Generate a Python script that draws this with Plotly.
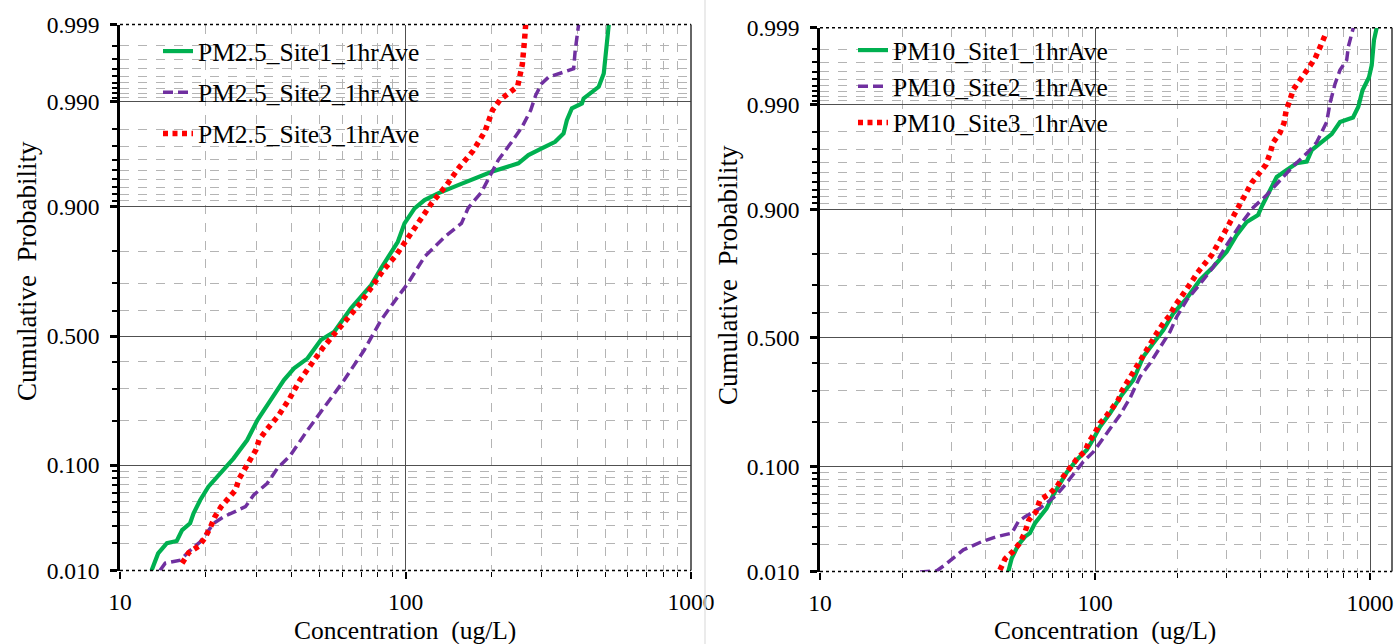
import plotly.graph_objects as go
from statistics import NormalDist

# ---------------- data ----------------
# Left panel: PM2.5, 1-hour averages  (concentration ug/L, cumulative probability)
pm25_site1_conc = [12.9, 13.6, 14.6, 15.8, 16.5, 17.6, 18.1, 19.1, 20.4, 21.9,
                   23.1, 25.0, 27.9, 30.3, 33.7, 37.5, 40.7, 45.4, 50.5, 56.3,
                   64.4, 75.8, 82.1, 86.7, 94.0, 99.2, 107.6, 116.6, 130.0, 152.9,
                   200.3, 248.5, 269.5, 300.1, 334.3, 357.8, 367.5, 382.7, 415.0, 420.7,
                   475.1, 494.8, 504.1, 515.2]
pm25_site1_prob = [0.0100, 0.0155, 0.0199, 0.0210, 0.0271, 0.0316, 0.0393, 0.0519, 0.0675, 0.0814,
                   0.0947, 0.1125, 0.151, 0.2023, 0.2627, 0.3312, 0.3743, 0.4125, 0.4842, 0.517,
                   0.6083, 0.6936, 0.749, 0.7796, 0.8252, 0.8682, 0.8974, 0.9114, 0.9216, 0.9329,
                   0.9485, 0.9567, 0.9637, 0.9687, 0.973, 0.9778, 0.9839, 0.9881, 0.9895, 0.9908,
                   0.9933, 0.9954, 0.9979, 0.9990]

pm25_site2_conc = [13.8, 14.4, 16.3, 17.4, 19.1, 21.3, 23.1, 25.4, 27.5, 29.4,
                   32.8, 35.6, 39.6, 45.4, 51.9, 61.0, 71.7, 82.1, 94.0, 102.0,
                   116.6, 137.2, 157.0, 165.8, 184.6, 200.3, 211.3, 235.4, 255.3, 274.6,
                   285.9, 300.1, 316.9, 388.0, 393.0, 404.0]
pm25_site2_prob = [0.0100, 0.0121, 0.0131, 0.0162, 0.0206, 0.0316, 0.0365, 0.0407, 0.0452, 0.0574,
                   0.072, 0.0947, 0.1189, 0.1755, 0.2415, 0.3312, 0.4448, 0.5631, 0.6517, 0.6995,
                   0.7843, 0.8377, 0.8682, 0.898, 0.9234, 0.9468, 0.9596, 0.9729, 0.9807, 0.9875,
                   0.9916, 0.9939, 0.9949, 0.996, 0.9977, 0.9990]

pm25_site3_conc = [16.5, 17.4, 18.9, 19.8, 20.7, 21.5, 22.6, 24.0, 25.4, 26.1,
                   27.4, 28.7, 29.9, 30.7, 32.4, 35.8, 39.3, 42.7, 46.6, 51.2,
                   56.6, 62.7, 69.5, 76.2, 83.3, 92.8, 102.0, 112.6, 123.9, 139.0,
                   154.1, 172.6, 189.6, 201.8, 214.1, 247.1, 256.6, 260.9, 263.6]
pm25_site3_prob = [0.0121, 0.0158, 0.0186, 0.0224, 0.0286, 0.0365, 0.0452, 0.0537, 0.0633, 0.078,
                   0.0947, 0.1106, 0.129, 0.151, 0.1737, 0.2137, 0.2683, 0.3312, 0.3894, 0.4514,
                   0.5107, 0.572, 0.6272, 0.6876, 0.7414, 0.7892, 0.8358, 0.873, 0.9073, 0.9325,
                   0.9529, 0.967, 0.9787, 0.9875, 0.9904, 0.9934, 0.9965, 0.99825, 0.9990]

# Right panel: PM10, 1-hour averages
pm10_site1_conc = [48.4, 49.8, 52.6, 55.7, 58.0, 60.5, 63.1, 66.7, 70.5, 74.6,
                   78.9, 85.8, 93.3, 98.6, 104.3, 113.4, 125.1, 137.9, 149.8, 162.9,
                   177.2, 192.7, 215.6, 240.9, 269.3, 301.2, 327.6, 356.1, 391.5, 406.5,
                   433.1, 457.9, 497.9, 541.5, 588.8, 613.8, 657.9, 725.6, 777.8, 867.4,
                   906.9, 939.2, 991.7, 1014.4, 1033.9, 1057.8]
pm10_site1_prob = [0.0100, 0.0141, 0.0196, 0.0239, 0.0259, 0.0325, 0.0375, 0.0449, 0.0589, 0.0739,
                   0.0902, 0.1122, 0.1323, 0.1572, 0.1885, 0.2266, 0.2851, 0.3379, 0.4261, 0.479,
                   0.5318, 0.5972, 0.6537, 0.7183, 0.7612, 0.805, 0.8475, 0.876, 0.8897, 0.9074,
                   0.9298, 0.9456, 0.9529, 0.9591, 0.9605, 0.9694, 0.9738, 0.9789, 0.9843, 0.986,
                   0.9894, 0.9932, 0.9953, 0.9967, 0.9985, 0.9990]

pm10_site2_conc = [23.1, 26.6, 28.5, 33.2, 38.7, 43.9, 49.8, 52.6, 55.7, 58.9,
                   63.1, 67.7, 72.5, 77.8, 83.4, 90.7, 98.6, 110.3, 123.3, 134.1,
                   145.7, 158.5, 172.4, 187.4, 198.3, 215.6, 240.9, 269.3, 301.2, 336.8,
                   376.4, 421.1, 457.9, 526.1, 595.2, 640.3, 695.9, 715.4, 746.0, 777.8,
                   822.8, 833.9, 869.6]
pm10_site2_prob = [0.0099, 0.0102, 0.0119, 0.0174, 0.0212, 0.0239, 0.0259, 0.0336, 0.0375, 0.0404,
                   0.0449, 0.0515, 0.0589, 0.0716, 0.0862, 0.109, 0.1281, 0.1713, 0.2216, 0.275,
                   0.3489, 0.4005, 0.4655, 0.525, 0.584, 0.6475, 0.7047, 0.7603, 0.8229, 0.8698,
                   0.9032, 0.9228, 0.9375, 0.9567, 0.968, 0.9745, 0.9843, 0.9903, 0.9943, 0.9962,
                   0.9972, 0.99814, 0.9990]

pm10_site3_conc = [45.1, 47.1, 50.2, 53.4, 55.7, 57.5, 61.0, 63.1, 68.2, 72.7,
                   76.7, 81.1, 85.8, 92.0, 95.1, 100.0, 104.3, 109.6, 115.6, 121.5,
                   125.4, 130.8, 136.6, 142.5, 147.9, 155.0, 161.6, 169.0, 177.2, 186.3,
                   194.3, 205.0, 214.8, 224.7, 234.9, 249.1, 265.7, 282.9, 299.5, 314.1,
                   325.6, 339.6, 354.9, 371.3, 393.1, 418.8, 433.1, 444.1, 470.8, 486.8,
                   495.0, 511.9, 527.1, 556.6, 590.0, 631.0, 660.7, 686.1]
pm10_site3_prob = [0.0104, 0.0139, 0.0166, 0.0207, 0.0268, 0.0349, 0.0418, 0.0533, 0.0601, 0.0696,
                   0.0836, 0.0972, 0.1137, 0.1302, 0.1508, 0.1728, 0.1978, 0.2171, 0.2419, 0.2684,
                   0.2998, 0.3306, 0.36, 0.3902, 0.4238, 0.4552, 0.4893, 0.525, 0.5582, 0.5867,
                   0.6224, 0.6537, 0.6837, 0.7125, 0.7404, 0.7695, 0.7958, 0.8305, 0.859, 0.8784,
                   0.8953, 0.9122, 0.9261, 0.939, 0.9493, 0.958, 0.9671, 0.9742, 0.9796, 0.9839,
                   0.988, 0.9911, 0.9934, 0.9949, 0.99625, 0.99731, 0.99818, 0.99871]

left_names = ["PM2.5_Site1_1hrAve", "PM2.5_Site2_1hrAve", "PM2.5_Site3_1hrAve"]
right_names = ["PM10_Site1_1hrAve", "PM10_Site2_1hrAve", "PM10_Site3_1hrAve"]

# axis ticks
prob_major = [0.01, 0.1, 0.5, 0.9, 0.99, 0.999]
prob_major_labels = ["0.010", "0.100", "0.500", "0.900", "0.990", "0.999"]
prob_minor = [0.02, 0.03, 0.04, 0.05, 0.06, 0.07, 0.08, 0.09,
              0.2, 0.3, 0.4, 0.6, 0.7, 0.8,
              0.91, 0.92, 0.93, 0.94, 0.95, 0.96, 0.97, 0.98,
              0.991, 0.992, 0.993, 0.994, 0.995, 0.996, 0.997, 0.998]
conc_major = [10, 100, 1000]
conc_major_labels = ["10", "100", "1000"]
conc_minor = [20, 30, 40, 50, 60, 70, 80, 90, 200, 300, 400, 500, 600, 700, 800, 900]

# ---------------- helpers ----------------
nd = NormalDist()


def probit(ps):
    return [nd.inv_cdf(p) for p in ps]


FONT = "Liberation Serif, Times New Roman, serif"
GREEN = "#00B050"
PURPLE = "#7030A0"
RED = "#FF0000"
styles = [
    dict(color=GREEN, width=4.2),
    dict(color=PURPLE, width=3.5, dash="10px,5px"),
    dict(color=RED, width=5.5, dash="5px,4.5px"),
]

fig = go.Figure()

left_series = [(pm25_site1_conc, pm25_site1_prob), (pm25_site2_conc, pm25_site2_prob),
               (pm25_site3_conc, pm25_site3_prob)]
right_series = [(pm10_site1_conc, pm10_site1_prob), (pm10_site2_conc, pm10_site2_prob),
                (pm10_site3_conc, pm10_site3_prob)]

for i, ((c, p), name) in enumerate(zip(left_series, left_names)):
    fig.add_trace(go.Scatter(x=c, y=probit(p), mode="lines", name=name, line=styles[i],
                             xaxis="x", yaxis="y", legend="legend", legendgroup="L%d" % i))
for i, ((c, p), name) in enumerate(zip(right_series, right_names)):
    fig.add_trace(go.Scatter(x=c, y=probit(p), mode="lines", name=name, line=styles[i],
                             xaxis="x2", yaxis="y2", legend="legend2", legendgroup="R%d" % i))

W, H = 1400, 644
zlo, zhi = nd.inv_cdf(0.01), nd.inv_cdf(0.999)


def yaxis_cfg(dom, anchor):
    return dict(
        domain=dom, anchor=anchor, range=[zlo, zhi], automargin=False,
        tickmode="array", tickvals=probit(prob_major), ticktext=prob_major_labels,
        ticks="outside", ticklen=7, tickwidth=2.5, tickcolor="black",
        showline=True, linecolor="black", linewidth=2.5,
        showgrid=True, gridcolor="#505050", gridwidth=1, zeroline=False,
        tickfont=dict(family=FONT, size=23.5, color="black"),
        ticklabelstandoff=6,
        minor=dict(tickmode="array", tickvals=probit(prob_minor), ticks="outside", ticklen=5,
                   tickwidth=1.5, tickcolor="black", showgrid=True, gridcolor="#b4b4b4",
                   griddash="dash", gridwidth=1),
    )


def xaxis_cfg(dom, anchor, rng):
    return dict(
        domain=dom, anchor=anchor, type="log", range=rng, automargin=False,
        tickmode="array", tickvals=conc_major, ticktext=conc_major_labels,
        ticks="outside", ticklen=7, tickwidth=1.5, tickcolor="black",
        showline=False, showgrid=True, gridcolor="#505050", gridwidth=1, zeroline=False,
        tickfont=dict(family=FONT, size=23.5, color="black"),
        ticklabelstandoff=3,
        minor=dict(tickmode="array", tickvals=conc_minor, ticks="outside", ticklen=5,
                   tickwidth=1, tickcolor="black", showgrid=True, gridcolor="#b4b4b4",
                   griddash="dash", gridwidth=1),
    )


Lx = [120 / W, 691 / W]
Ly = [1 - 570.5 / H, 1 - 24.6 / H]
Rx = [820 / W, 1392 / W]
Ry = [1 - 571.5 / H, 1 - 27.8 / H]

shapes = []
for xr, yr in (("x", "y"), ("x2", "y2")):
    xd, yd = xr + " domain", yr + " domain"
    shapes += [
        dict(type="line", xref=xd, yref=yd, x0=0, x1=1, y0=0, y1=0,
             line=dict(color="black", width=1.5, dash="dot"), layer="above"),
        dict(type="line", xref=xd, yref=yd, x0=0, x1=1, y0=1, y1=1,
             line=dict(color="black", width=1.5, dash="dot"), layer="above"),
        dict(type="line", xref=xd, yref=yd, x0=1, x1=1, y0=0, y1=1,
             line=dict(color="#333333", width=1.5), layer="above"),
    ]
shapes.append(dict(type="line", xref="paper", yref="paper", x0=705 / W, x1=705 / W, y0=0, y1=1,
                   line=dict(color="#e4e4e4", width=1.5)))

title_font = dict(family=FONT, size=25.5, color="black")
ytitle_font = dict(family=FONT, size=27, color="black")
annotations = [
    dict(text="Concentration\u00a0 (ug/L)", x=405 / W, y=1 - 630 / H, xref="paper", yref="paper",
         showarrow=False, font=title_font, xanchor="center", yanchor="middle"),
    dict(text="Concentration\u00a0 (ug/L)", x=1105 / W, y=1 - 630 / H, xref="paper", yref="paper",
         showarrow=False, font=title_font, xanchor="center", yanchor="middle"),
    dict(text="Cumulative\u00a0 Probability", x=27 / W, y=1 - 271 / H, xref="paper", yref="paper",
         showarrow=False, font=ytitle_font, textangle=-90, xanchor="center", yanchor="middle"),
    dict(text="Cumulative\u00a0 Probability", x=728 / W, y=1 - 275 / H, xref="paper", yref="paper",
         showarrow=False, font=ytitle_font, textangle=-90, xanchor="center", yanchor="middle"),
]

legend_font = dict(family=FONT, size=25.5, color="black")
fig.update_layout(
    width=W, height=H, autosize=False,
    margin=dict(l=0, r=0, t=0, b=0, pad=0, autoexpand=False),
    paper_bgcolor="white", plot_bgcolor="white",
    xaxis=xaxis_cfg(Lx, "y", [1, 3]),
    yaxis=yaxis_cfg(Ly, "x"),
    xaxis2=xaxis_cfg(Rx, "y2", [1, 1 + 572 / 275]),
    yaxis2=yaxis_cfg(Ry, "x2"),
    shapes=shapes,
    annotations=annotations,
    legend=dict(x=158 / W, y=1 - 28 / H, xanchor="left", yanchor="top",
                bgcolor="rgba(0,0,0,0)", borderwidth=0, font=legend_font,
                tracegroupgap=5, itemwidth=30),
    legend2=dict(x=853 / W, y=1 - 27 / H, xanchor="left", yanchor="top",
                 bgcolor="rgba(0,0,0,0)", borderwidth=0, font=legend_font,
                 tracegroupgap=0, itemwidth=30),
    showlegend=True,
)

post = ("document.body.style.margin='0';document.body.style.padding='0';"
        "document.body.style.overflow='hidden';")

fig.write_html("out.html", config={"displayModeBar": False, "responsive": False},
               post_script=post)
